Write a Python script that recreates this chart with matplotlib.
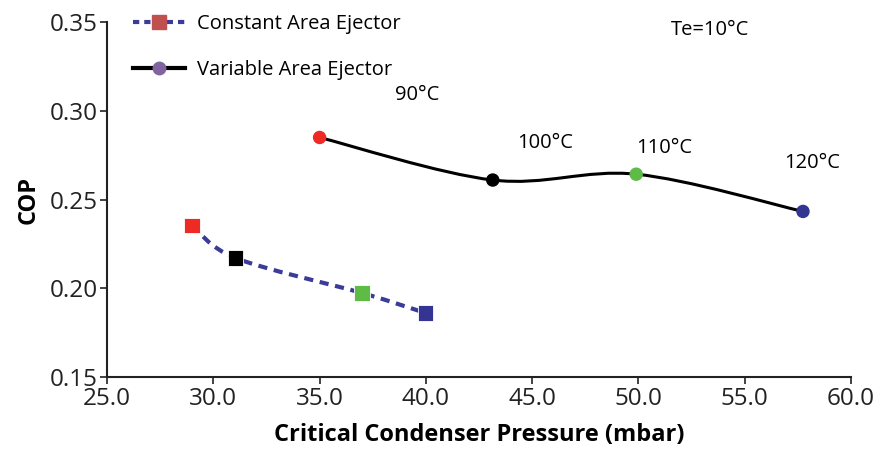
import numpy as np
import matplotlib
matplotlib.use('Agg')
from matplotlib import pyplot as plt
from matplotlib.path import Path
from matplotlib.patches import PathPatch
from matplotlib.lines import Line2D

plt.rcParams['font.family'] = ['Open Sans', 'DejaVu Sans']

# data
const_p = [29.0, 31.05, 37.0, 40.0]
const_cop = [0.2355, 0.217, 0.1973, 0.186]
var_p = [35.0, 43.15, 49.9, 57.75]
var_cop = [0.285, 0.261, 0.2643, 0.2433]
point_colors = ['#EE2A24', '#000000', '#5DBB46', '#343493']
temp_labels = ['90°C', '100°C', '110°C', '120°C']
label_pos = [(39.6, 0.309), (45.6, 0.282), (51.2, 0.279), (58.2, 0.2705)]


def smooth_path(x, y, t=1/6.):
    # Excel-like smoothed line: Bezier through points (Catmull-Rom style)
    x = np.asarray(x, float); y = np.asarray(y, float)
    verts = [(x[0], y[0])]
    codes = [Path.MOVETO]
    n = len(x)
    for i in range(n - 1):
        i0 = max(i - 1, 0); i3 = min(i + 2, n - 1)
        c1 = (x[i] + (x[i+1] - x[i0]) * t, y[i] + (y[i+1] - y[i0]) * t)
        c2 = (x[i+1] - (x[i3] - x[i]) * t, y[i+1] - (y[i3] - y[i]) * t)
        verts += [c1, c2, (x[i+1], y[i+1])]
        codes += [Path.CURVE4] * 3
    return Path(verts, codes)


fig = plt.figure(figsize=(8.78, 4.53), dpi=100)
ax = fig.add_axes([0.122, 0.168, 0.847, 0.783])

ax.add_patch(PathPatch(smooth_path(const_p, const_cop), fill=False,
                       edgecolor='#3B3B98', lw=3, ls=(0, (2.2, 1.6)), zorder=2))
ax.add_patch(PathPatch(smooth_path(var_p, var_cop), fill=False,
                       edgecolor='black', lw=2.2, zorder=2))
ax.scatter(const_p, const_cop, marker='s', s=120, c=point_colors,
           edgecolors='white', linewidths=0.6, zorder=3)
ax.scatter(var_p, var_cop, marker='o', s=75, c=point_colors, zorder=3)

for lab, (lx, ly) in zip(temp_labels, label_pos):
    ax.text(lx, ly, lab, ha='center', va='center', fontsize=14.5)
ax.text(53.4, 0.3455, 'Te=10°C', ha='center', va='center', fontsize=14.5)

h1 = Line2D([], [], color='#3B3B98', lw=3, ls=(0, (1.5, 1.2)), marker='s',
            markersize=10, markerfacecolor='#C0504D', markeredgecolor='#C0504D')
h2 = Line2D([], [], color='black', lw=3, marker='o', markersize=9,
            markerfacecolor='#8064A2', markeredgecolor='#8064A2')
ax.legend([h1, h2], ['Constant Area Ejector', 'Variable Area Ejector'],
          loc='upper left', bbox_to_anchor=(0.01, 1.075), frameon=False,
          fontsize=14.5, handlelength=2.6, handletextpad=0.6, labelspacing=1.3)

ax.set_xlim(25, 60)
ax.set_ylim(0.15, 0.35)
ax.set_xticks(np.arange(25, 60.1, 5))
ax.set_xticklabels(['%.1f' % v for v in np.arange(25, 60.1, 5)])
ax.set_yticks(np.arange(0.15, 0.351, 0.05))
ax.set_yticklabels(['%.2f' % v for v in np.arange(0.15, 0.351, 0.05)])
ax.tick_params(labelsize=17.5, length=5, width=1.2, colors='#222222', pad=2)
for s in ['top', 'right']:
    ax.spines[s].set_visible(False)
for s in ['left', 'bottom']:
    ax.spines[s].set_linewidth(1.5)
    ax.spines[s].set_color('#222222')
ax.set_xlabel('Critical Condenser Pressure (mbar)', fontsize=17, fontweight='bold', labelpad=9)
ax.set_ylabel('COP', fontsize=17, fontweight='bold', labelpad=6)

plt.savefig('out.png', dpi=100)
